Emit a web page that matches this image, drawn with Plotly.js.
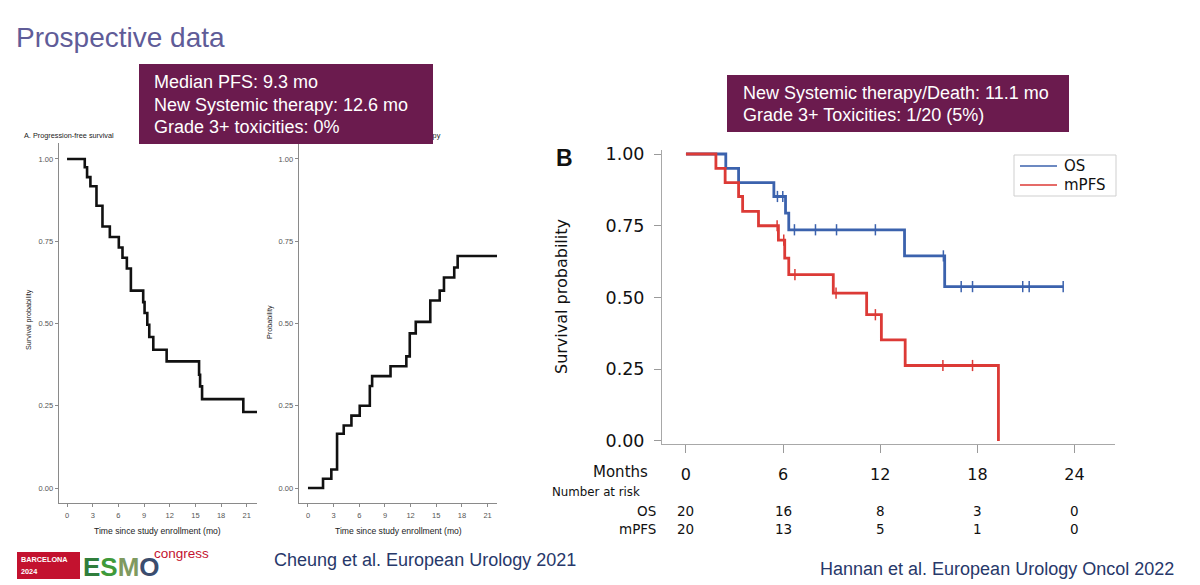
<!DOCTYPE html>
<html>
<head>
<meta charset="utf-8">
<script src="https://cdn.plot.ly/plotly-3.0.1.min.js"></script>
<style>
  html, body { margin: 0; padding: 0; background: #ffffff; }
  #chart { width: 1200px; height: 585px; }
</style>
</head>
<body>
<div id="chart"></div>
<script>
// ---- Cheung et al.: progression-free survival (Kaplan-Meier steps) ----
const pfsMonths   = [0, 2.07, 2.34, 2.73, 3.44, 4.14, 5.0, 6.05, 6.48, 6.99, 7.46, 8.9, 9.06, 9.38, 9.61, 10.08, 11.64, 15.43, 15.55, 15.78, 20.6, 22.2];
const pfsSurvival = [1, 0.975, 0.945, 0.917, 0.858, 0.795, 0.763, 0.731, 0.70, 0.667, 0.60, 0.565, 0.532, 0.496, 0.459, 0.42, 0.385, 0.344, 0.309, 0.27, 0.231, 0.231];

// ---- Cheung et al.: cumulative probability of new systemic therapy ----
const nstMonths      = [0, 1.76, 2.73, 3.4, 4.18, 5.08, 6.05, 7.23, 7.5, 9.65, 11.5, 11.9, 12.6, 14.3, 15.4, 15.9, 17.1, 17.5, 22.1];
const nstProbability = [0, 0.028, 0.056, 0.165, 0.19, 0.22, 0.25, 0.31, 0.34, 0.37, 0.40, 0.47, 0.505, 0.57, 0.60, 0.64, 0.67, 0.705, 0.705];

// ---- Hannan et al.: overall survival ----
const osMonths   = [0, 2.46, 3.25, 5.43, 6.15, 6.35, 13.5, 15.98, 23.3];
const osSurvival = [1, 0.95, 0.90, 0.852, 0.794, 0.736, 0.645, 0.538, 0.538];
const osCensorMonths   = [5.65, 5.98, 6.7, 8.0, 9.3, 11.7, 15.9, 17.0, 17.7, 20.8, 21.2, 23.3];
const osCensorSurvival = [0.852, 0.852, 0.736, 0.736, 0.736, 0.736, 0.645, 0.538, 0.538, 0.538, 0.538, 0.538];

// ---- Hannan et al.: metastatic progression-free survival ----
const mpfsMonths   = [0, 1.85, 2.42, 3.25, 3.5, 4.48, 5.71, 6.1, 6.35, 9.1, 11.16, 12.07, 13.54, 19.3];
const mpfsSurvival = [1, 0.95, 0.90, 0.852, 0.80, 0.75, 0.70, 0.637, 0.58, 0.515, 0.44, 0.352, 0.263, 0];
const mpfsCensorMonths   = [5.63, 6.04, 6.73, 9.27, 11.7, 15.87, 17.7];
const mpfsCensorSurvival = [0.75, 0.70, 0.58, 0.515, 0.44, 0.263, 0.263];

// ---- Number at risk table ----
const riskMonths = [0, 6, 12, 18, 24];
const riskOS     = [20, 16, 8, 3, 0];
const riskMPFS   = [20, 13, 5, 1, 0];

// ---- Tick values ----
const cheungTicks = [0, 3, 6, 9, 12, 15, 18, 21];
const hannanTicks = [0, 6, 12, 18, 24];
const probTicks   = [0, 0.25, 0.5, 0.75, 1];

// ---- Legend of the right-hand panel ----
const legendNames  = ['OS', 'mPFS'];

// pixel -> paper helpers for a 1200 x 585 page
const W = 1200, H = 585;
const px = v => v / W;
const py = v => 1 - v / H;

const ARIAL = 'Liberation Sans, Arial, sans-serif';
const VERD = 'DejaVu Sans, Verdana, sans-serif';
const BLUE = '#3b62ad';
const RED = '#dc3a36';
const BOX = '#6b1b4e';
const legendColors = [BLUE, RED];

const traces = [
  { x: pfsMonths, y: pfsSurvival, xaxis: 'x', yaxis: 'y', type: 'scatter', mode: 'lines',
    line: { shape: 'hv', color: '#111', width: 2.6 }, hoverinfo: 'skip' },
  { x: nstMonths, y: nstProbability, xaxis: 'x2', yaxis: 'y2', type: 'scatter', mode: 'lines',
    line: { shape: 'hv', color: '#111', width: 2.6 }, hoverinfo: 'skip' },
  { x: osMonths, y: osSurvival, xaxis: 'x3', yaxis: 'y3', type: 'scatter', mode: 'lines', name: 'OS',
    line: { shape: 'hv', color: BLUE, width: 2.8 }, hoverinfo: 'skip' },
  { x: osCensorMonths, y: osCensorSurvival, xaxis: 'x3', yaxis: 'y3', type: 'scatter', mode: 'markers',
    marker: { symbol: 'line-ns-open', size: 8, color: BLUE, line: { color: BLUE, width: 1.5 } }, hoverinfo: 'skip' },
  { x: mpfsMonths, y: mpfsSurvival, xaxis: 'x3', yaxis: 'y3', type: 'scatter', mode: 'lines', name: 'mPFS',
    line: { shape: 'hv', color: RED, width: 2.8 }, hoverinfo: 'skip' },
  { x: mpfsCensorMonths, y: mpfsCensorSurvival, xaxis: 'x3', yaxis: 'y3', type: 'scatter', mode: 'markers',
    marker: { symbol: 'line-ns-open', size: 8, color: RED, line: { color: RED, width: 1.5 } }, hoverinfo: 'skip' }
];

function smallX(domainPx, range) {
  return {
    domain: [px(domainPx[0]), px(domainPx[1])], range: range,
    tickmode: 'array', tickvals: cheungTicks, ticktext: cheungTicks.map(String),
    ticks: 'outside', ticklen: 3, tickwidth: 1, tickcolor: '#8a8a8a',
    showline: true, linecolor: '#8a8a8a', linewidth: 1.3,
    showgrid: false, zeroline: false, fixedrange: true,
    tickfont: { family: ARIAL, size: 7.5, color: '#555' }, ticklabelstandoff: 2
  };
}
function smallY(range) {
  return {
    domain: [py(503), py(143)], range: range,
    tickmode: 'array', tickvals: probTicks, tickformat: '.2f',
    ticks: 'outside', ticklen: 3, tickwidth: 1, tickcolor: '#8a8a8a',
    showline: true, linecolor: '#8a8a8a', linewidth: 1.3,
    showgrid: false, zeroline: false, fixedrange: true,
    tickfont: { family: ARIAL, size: 7.5, color: '#555' }
  };
}

function note(text, x, y, o) {
  return Object.assign({
    text: text, x: x, y: y, xref: 'paper', yref: 'paper',
    showarrow: false, xanchor: 'left', yanchor: 'middle',
    font: { family: ARIAL, size: 12, color: '#222' }
  }, o || {});
}

const annotations = [];
const shapes = [];

// slide heading
annotations.push(note('Prospective data', px(14), py(37), { font: { family: ARIAL, size: 28, color: '#5f5c98' } }));

// Cheung panel titles
annotations.push(note('A. Progression-free survival', px(22), py(135), { font: { family: ARIAL, size: 7.3, color: '#222' } }));
annotations.push(note('B. New systemic therapy', px(443), py(135),
  { xanchor: 'right', font: { family: ARIAL, size: 7.3, color: '#222' } }));

// Cheung axis titles
annotations.push(note('Survival probability', px(28), py(320), { xanchor: 'center', textangle: -90, font: { family: ARIAL, size: 7.2, color: '#222' } }));
annotations.push(note('Probability', px(269), py(322), { xanchor: 'center', textangle: -90, font: { family: ARIAL, size: 7.2, color: '#222' } }));
annotations.push(note('Time since study enrollment (mo)', px(158), py(531), { xanchor: 'center', font: { family: ARIAL, size: 8.6, color: '#222' } }));
annotations.push(note('Time since study enrollment (mo)', px(398), py(531), { xanchor: 'center', font: { family: ARIAL, size: 8.6, color: '#222' } }));

// Cheung summary box
annotations.push(note(' ', px(139), py(64), { xanchor: 'left', yanchor: 'top', width: 294, height: 80,
  bgcolor: BOX, borderpad: 0, borderwidth: 0 }));
['Median PFS: 9.3 mo', 'New Systemic therapy: 12.6 mo', 'Grade 3+ toxicities: 0%'].forEach((t, i) => {
  annotations.push(note(t, px(152), py(82 + i * 22.5), { font: { family: ARIAL, size: 18, color: '#ffffff' } }));
});

// Hannan summary box
annotations.push(note(' ', px(727), py(75), { xanchor: 'left', yanchor: 'top', width: 342, height: 57,
  bgcolor: BOX, borderpad: 0, borderwidth: 0 }));
['New Systemic therapy/Death: 11.1 mo', 'Grade 3+ Toxicities: 1/20 (5%)'].forEach((t, i) => {
  annotations.push(note(t, px(741), py(93 + i * 22.5), { font: { family: ARIAL, size: 18, color: '#ffffff' } }));
});

// Hannan panel label and axis title
annotations.push(note('<b>B</b>', px(554), py(158), { font: { family: ARIAL, size: 23, color: '#111' } }));
annotations.push(note('Survival probability', px(561), py(297), { xanchor: 'center', textangle: -90, font: { family: VERD, size: 16, color: '#111' } }));

// legend box for the right-hand panel
shapes.push({ type: 'rect', xref: 'paper', yref: 'paper', x0: px(1014), x1: px(1116), y0: py(155), y1: py(196),
  line: { color: '#cfcfcf', width: 1 }, fillcolor: 'rgba(255,255,255,0)', layer: 'above' });
legendNames.forEach((name, i) => {
  const yy = py(166 + i * 19);
  shapes.push({ type: 'line', xref: 'paper', yref: 'paper', x0: px(1020), x1: px(1057), y0: yy, y1: yy,
    line: { color: legendColors[i], width: 1.6 }, layer: 'above' });
  annotations.push(note(name, px(1062), yy, { font: { family: VERD, size: 15, color: '#111' } }));
});

// Number at risk table
annotations.push(note('Months', px(650), py(472), { xanchor: 'right', font: { family: VERD, size: 15, color: '#111' } }));
annotations.push(note('Number at risk', px(550), py(492), { font: { family: VERD, size: 11.8, color: '#111' } }));
annotations.push(note('OS', px(658), py(511), { xanchor: 'right', font: { family: VERD, size: 13.5, color: '#111' } }));
annotations.push(note('mPFS', px(658), py(529), { xanchor: 'right', font: { family: VERD, size: 13.5, color: '#111' } }));
riskMonths.forEach((m, i) => {
  annotations.push(note(String(riskOS[i]), m, py(511), { xref: 'x3', xanchor: 'center', font: { family: VERD, size: 13.5, color: '#111' } }));
  annotations.push(note(String(riskMPFS[i]), m, py(529), { xref: 'x3', xanchor: 'center', font: { family: VERD, size: 13.5, color: '#111' } }));
});

// congress logo
annotations.push(note(' ', px(17), py(552), { xanchor: 'left', yanchor: 'top', width: 63, height: 27,
  bgcolor: '#c3122f', borderpad: 0, borderwidth: 0 }));
annotations.push(note('<b>BARCELONA</b>', px(19), py(559), { font: { family: ARIAL, size: 7.3, color: '#ffffff' } }));
annotations.push(note('<b>2024</b>', px(19), py(571), { font: { family: ARIAL, size: 7.3, color: '#ffffff' } }));
annotations.push(note('<b><span style="color:#2f7e3c">E</span><span style="color:#3f9a3a">S</span><span style="color:#7f9a5f">M</span><span style="color:#3b4d6e">O</span></b>',
  px(81), py(567), { font: { family: ARIAL, size: 26, color: '#2f7e3c' } }));
annotations.push(note('congress', px(152), py(553), { font: { family: ARIAL, size: 13.5, color: '#c3122f' } }));

// references
annotations.push(note('Cheung et al. European Urology 2021', px(272), py(560), { font: { family: ARIAL, size: 18, color: '#27386a' } }));
annotations.push(note('Hannan et al. European Urology Oncol 2022', px(818), py(569), { font: { family: ARIAL, size: 18, color: '#27386a' } }));

const layout = {
  width: W, height: H,
  margin: { l: 0, r: 0, t: 0, b: 0, pad: 0 },
  paper_bgcolor: '#ffffff', plot_bgcolor: 'rgba(0,0,0,0)',
  font: { family: ARIAL, color: '#222' },
  showlegend: false,
  xaxis: smallX([59, 257], [-0.94, 22.2]),
  yaxis: Object.assign(smallY([-0.0456, 1.0486]), { anchor: 'x' }),
  xaxis2: Object.assign(smallX([299, 497], [-1.05, 22.1]), { anchor: 'y2' }),
  yaxis2: Object.assign(smallY([-0.0456, 1.0486]), { anchor: 'x2' }),
  xaxis3: {
    domain: [px(662), px(1115)], range: [-1.48, 26.5], anchor: 'y3',
    tickmode: 'array', tickvals: hannanTicks, ticktext: hannanTicks.map(String),
    ticks: 'outside', ticklen: 8, tickwidth: 1, tickcolor: '#9a9a9a',
    showline: true, linecolor: '#a8a8a8', linewidth: 1,
    showgrid: false, zeroline: false, fixedrange: true,
    tickfont: { family: VERD, size: 16, color: '#111' }, ticklabelstandoff: 8
  },
  yaxis3: {
    domain: [py(444), py(150)], range: [-0.0105, 1.014], anchor: 'x3',
    tickmode: 'array', tickvals: probTicks, tickformat: '.2f',
    ticks: 'outside', ticklen: 7, tickwidth: 1, tickcolor: '#9a9a9a',
    showline: true, linecolor: '#a8a8a8', linewidth: 1,
    showgrid: false, zeroline: false, fixedrange: true,
    tickfont: { family: VERD, size: 17.5, color: '#111' }, ticklabelstandoff: 6
  },
  shapes: shapes,
  annotations: annotations
};

Plotly.newPlot('chart', traces, layout, { displayModeBar: false, staticPlot: true });
</script>
</body>
</html>
